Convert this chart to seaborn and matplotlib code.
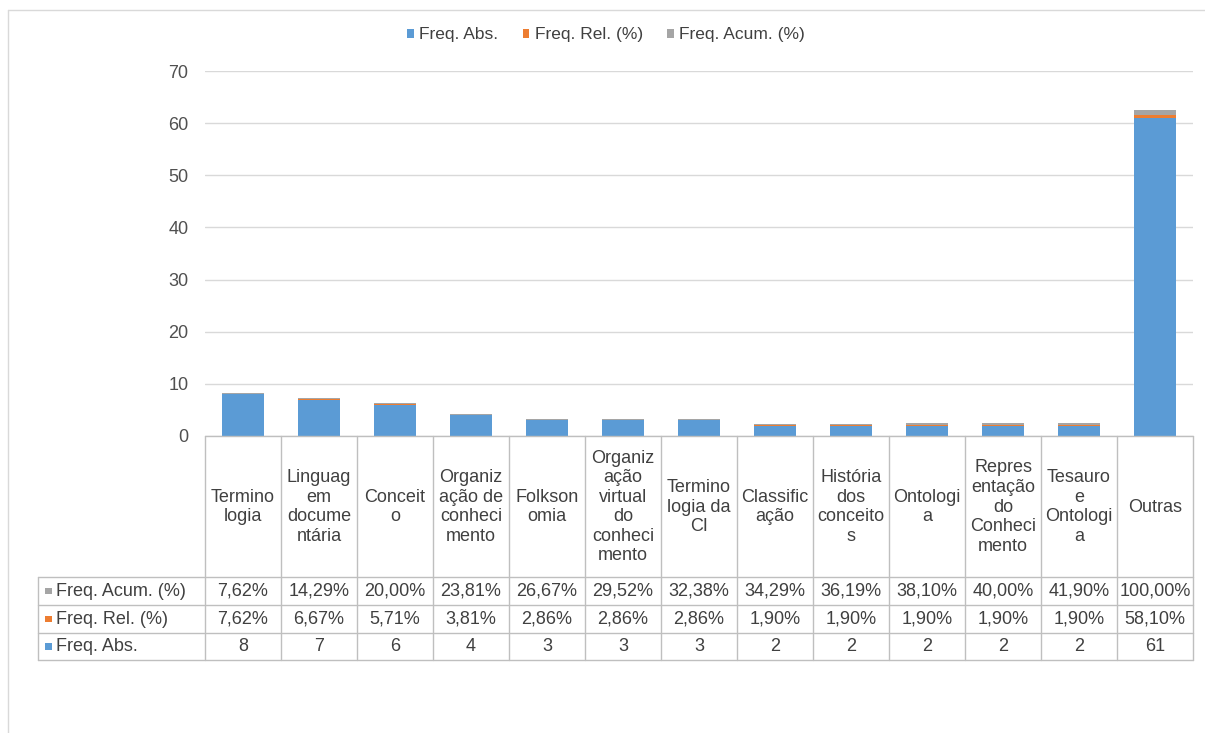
import matplotlib
matplotlib.use("Agg")
import matplotlib.pyplot as plt
import seaborn as sns
import pandas as pd
from matplotlib.patches import Rectangle, Patch
from matplotlib.lines import Line2D

# ---------------- data ----------------
categories = [
    "Termino\nlogia", "Linguag\nem\ndocume\nntária", "Conceit\no",
    "Organiz\nação de\nconheci\nmento", "Folkson\nomia",
    "Organiz\nação\nvirtual\ndo\nconheci\nmento", "Termino\nlogia da\nCI",
    "Classific\nação", "História\ndos\nconceito\ns", "Ontologi\na",
    "Repres\nentação\ndo\nConheci\nmento", "Tesauro\ne\nOntologi\na", "Outras",
]
freq_abs = [8, 7, 6, 4, 3, 3, 3, 2, 2, 2, 2, 2, 61]
freq_rel = [7.62, 6.67, 5.71, 3.81, 2.86, 2.86, 2.86, 1.90, 1.90, 1.90, 1.90, 1.90, 58.10]
freq_acum = [7.62, 14.29, 20.00, 23.81, 26.67, 29.52, 32.38, 34.29, 36.19, 38.10, 40.00, 41.90, 100.00]
series_names = ["Freq. Abs.", "Freq. Rel. (%)", "Freq. Acum. (%)"]
yticks = [0, 10, 20, 30, 40, 50, 60, 70]

colors = {"Freq. Abs.": "#5B9BD5", "Freq. Rel. (%)": "#ED7D31", "Freq. Acum. (%)": "#A5A5A5"}

W, H = 1205, 733
sns.set_theme(style="white")
plt.rcParams["font.family"] = ["Liberation Sans", "DejaVu Sans"]

fig = plt.figure(figsize=(W / 100, H / 100), dpi=100)
fig.patch.set_facecolor("white")


def fx(x):
    return x / W


def fy(y):
    return 1 - y / H


FS = 13
txt = "#404040"

# plot area
x0, x1, ytop, y0 = 205, 1193, 71, 436
ax = fig.add_axes([fx(x0), fy(y0), fx(x1) - fx(x0), fy(ytop) - fy(y0)])

df = pd.DataFrame({
    "cat": categories,
    "abs": freq_abs,
    "rel": [v / 100 for v in freq_rel],
    "acum": [v / 100 for v in freq_acum],
})
df["top_rel"] = df["abs"] + df["rel"]
df["top_acum"] = df["top_rel"] + df["acum"]

bw = 0.55
sns.barplot(data=df, x="cat", y="top_acum", order=categories, color=colors["Freq. Acum. (%)"],
            saturation=1, width=bw, ax=ax, zorder=3, linewidth=0)
sns.barplot(data=df, x="cat", y="top_rel", order=categories, color=colors["Freq. Rel. (%)"],
            saturation=1, width=bw, ax=ax, zorder=4, linewidth=0)
sns.barplot(data=df, x="cat", y="abs", order=categories, color=colors["Freq. Abs."],
            saturation=1, width=bw, ax=ax, zorder=5, linewidth=0)

ax.set_xlim(-0.5, len(categories) - 0.5)
ax.set_ylim(0, 70)
ax.set_yticks(yticks)
ax.set_yticklabels([str(t) for t in yticks], fontsize=FS, color="#505050")
ax.set_xticks([])
ax.set_xlabel("")
ax.set_ylabel("")
ax.tick_params(axis="y", length=0, pad=12)
for s in ax.spines.values():
    s.set_visible(False)
ax.yaxis.grid(True, color="#D9D9D9", linewidth=1, zorder=0)
ax.set_axisbelow(True)

# ---------------- outer frame ----------------
lc = "#D9D9D9"
fig.add_artist(Line2D([fx(8), fx(W)], [fy(10), fy(10)], color=lc, lw=1))
fig.add_artist(Line2D([fx(8), fx(8)], [fy(10), fy(H)], color=lc, lw=1))

# ---------------- legend ----------------
handles = [Patch(facecolor=colors[n], edgecolor="none") for n in series_names]
fig.legend(handles, series_names, loc="center", bbox_to_anchor=(fx(606), fy(35)), ncol=3,
           frameon=False, fontsize=12.5, handlelength=0.38, handleheight=0.38,
           handletextpad=0.3, columnspacing=1.4, labelcolor=txt)

# ---------------- data table ----------------
tc = "#BFBFBF"
n = len(categories)
colw = (x1 - x0) / n
tab_left = 38
head_top = 436
row_lines = [577, 605, 633, 660]

# horizontal lines
fig.add_artist(Line2D([fx(x0), fx(x1)], [fy(head_top), fy(head_top)], color=tc, lw=1))
for yl in row_lines:
    fig.add_artist(Line2D([fx(tab_left), fx(x1)], [fy(yl), fy(yl)], color=tc, lw=1))
# vertical lines
for i in range(n + 1):
    xv = x0 + i * colw
    fig.add_artist(Line2D([fx(xv), fx(xv)], [fy(head_top), fy(row_lines[-1])], color=tc, lw=1))
fig.add_artist(Line2D([fx(tab_left), fx(tab_left)], [fy(row_lines[0]), fy(row_lines[-1])], color=tc, lw=1))

# header labels
for i, c in enumerate(categories):
    fig.text(fx(x0 + (i + 0.5) * colw), fy(507), c, ha="center", va="center",
             fontsize=FS, color=txt, linespacing=1.2)


def fmt(v):
    return f"{v:.2f}%".replace(".", ",")


rows = [
    ("Freq. Acum. (%)", [fmt(v) for v in freq_acum]),
    ("Freq. Rel. (%)", [fmt(v) for v in freq_rel]),
    ("Freq. Abs.", [str(v) for v in freq_abs]),
]
for r, (name, vals) in enumerate(rows):
    yc = (row_lines[r] + row_lines[r + 1]) / 2
    sq = 6.5
    fig.add_artist(Rectangle((fx(45), fy(yc + sq / 2)), fx(sq), sq / H,
                             facecolor=colors[name], edgecolor="none", transform=fig.transFigure))
    fig.text(fx(56), fy(yc), name, ha="left", va="center", fontsize=FS, color=txt)
    for i, v in enumerate(vals):
        fig.text(fx(x0 + (i + 0.5) * colw), fy(yc), v, ha="center", va="center",
                 fontsize=FS, color=txt)

fig.savefig("out.png", dpi=100)
